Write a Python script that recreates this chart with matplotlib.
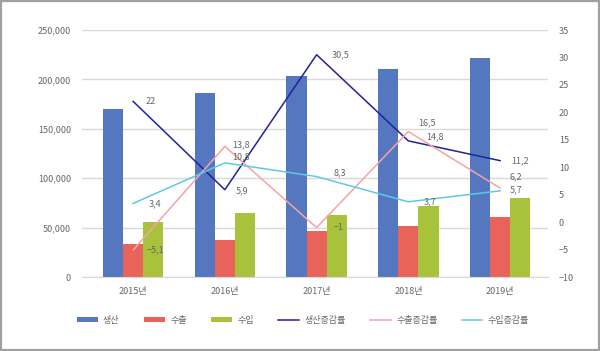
import matplotlib
matplotlib.use("Agg")
import matplotlib.pyplot as plt
import numpy as np
from matplotlib.patches import Rectangle

plt.rcParams['font.family'] = ['Noto Sans CJK KR', 'DejaVu Sans']

years = ['2015년', '2016년', '2017년', '2018년', '2019년']
production = [170000, 186500, 203500, 210500, 221700]
exports = [33100, 37400, 46500, 51600, 60700]
imports = [55400, 65100, 63000, 71900, 80000]
prod_growth = [22, 5.9, 30.5, 14.8, 11.2]
exp_growth = [-5.1, 13.8, -1, 16.5, 6.2]
imp_growth = [3.4, 10.8, 8.3, 3.7, 5.7]

c_prod = '#5577c0'
c_exp = '#e8645a'
c_imp = '#a8c23c'
c_pg = '#22229a'
c_eg = '#f5a3a6'
c_ig = '#5ccbe2'
txt = '#666666'

fig = plt.figure(figsize=(6, 3.51), dpi=100)
ax = fig.add_axes([0.137, 0.2108, 0.776, 0.7037])
x = np.arange(len(years))
w = 0.22
b1 = ax.bar(x - w, production, w, color=c_prod, label='생산', zorder=2)
b2 = ax.bar(x, exports, w, color=c_exp, label='수출', zorder=2)
b3 = ax.bar(x + w, imports, w, color=c_imp, label='수입', zorder=2)
ax.set_xlim(-0.555, len(years) - 0.48)
ax.set_ylim(0, 250000)
ax.set_yticks(np.arange(0, 250001, 50000))
ax.set_yticklabels([f'{v:,}' for v in range(0, 250001, 50000)])
ax.set_xticks(x)
ax.set_xticklabels(years)
ax.grid(axis='y', color='#d9d9d9', linewidth=1, zorder=0)
ax.set_axisbelow(True)
for s in ax.spines.values():
    s.set_visible(False)
ax.spines['bottom'].set_visible(True)
ax.spines['bottom'].set_color('#d9d9d9')
ax.tick_params(axis='both', length=0, labelsize=6.5, colors=txt)
ax.tick_params(axis='y', pad=8)
ax.tick_params(axis='x', pad=7)

ax2 = ax.twinx()
ax2.set_ylim(-10, 35)
ax2.set_yticks(np.arange(-10, 36, 5))
ax2.set_yticklabels([str(v).replace('-', '−') for v in range(-10, 36, 5)])
for s in ax2.spines.values():
    s.set_visible(False)
ax2.tick_params(axis='y', length=0, labelsize=6.5, colors=txt, pad=8)
l1, = ax2.plot(x, prod_growth, color=c_pg, lw=1.1, label='생산증감률')
l2, = ax2.plot(x, exp_growth, color=c_eg, lw=1.1, label='수출증감률')
l3, = ax2.plot(x, imp_growth, color=c_ig, lw=1.1, label='수입증감률')

def fmt(v):
    s = f'{v:g}'.replace('.', ',')
    return s.replace('-', '−')

offsets = {
    'p': [(9, 0), (8, -1), (11, 0), (13, 3), (8, 0)],
    'e': [(10, 0), (5, 1), (12, 0), (7, 6), (7, 8)],
    'i': [(11, 0), (5, 4), (12, 3), (11, 0), (7, 1)],
}
for key, ser in (('p', prod_growth), ('e', exp_growth), ('i', imp_growth)):
    for i, v in enumerate(ser):
        ax2.annotate(fmt(v), (x[i], v), xytext=offsets[key][i], textcoords='offset points',
                     ha='left', va='center', fontsize=6.5, color=txt)

handles = [b1, b2, b3, l1, l2, l3]
leg = fig.legend(handles, [h.get_label() for h in handles], loc='center',
                 bbox_to_anchor=(0.505, 0.088), ncol=6, frameon=False, fontsize=6.5,
                 handlelength=2.3, handleheight=0.6, columnspacing=2.7, handletextpad=0.6)
for t in leg.get_texts():
    t.set_color(txt)

fig.patches.append(Rectangle((0.002, 0.003), 0.996, 0.994, transform=fig.transFigure,
                             fill=False, edgecolor='#a0a0a0', linewidth=1.6))
fig.savefig('out.png', dpi=100)
